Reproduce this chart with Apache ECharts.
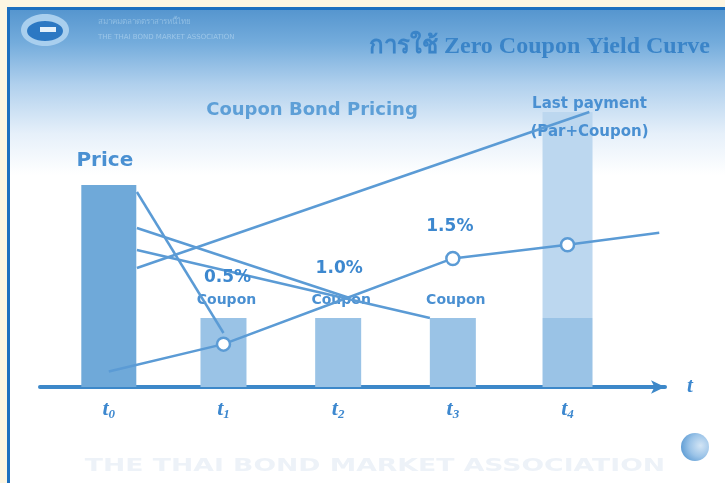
<!DOCTYPE html>
<html>
<head>
<meta charset="utf-8">
<script src="https://cdn.jsdelivr.net/npm/echarts@6/dist/echarts.min.js"></script>
<style>
  html, body { margin: 0; padding: 0; background: #ffffff; }
  #chart { width: 725px; height: 483px; }
</style>
</head>
<body>
<div id="chart"></div>
<script>
// Cash-flow timeline: t0 holds the bond price, t1..t4 the cash flows received.
const tickSubscripts = ['0', '1', '2', '3', '4'];
const cashTimes = [0, 1, 2, 3, 4];
const cashAmounts = [101, 34.5, 34.5, 34.5, 34.5];   // price, then coupons
const parTime = 4;
const parAmount = 103;                               // par repaid with the final coupon
const cashCaptions = ['Price', 'Coupon', 'Coupon', 'Coupon', ''];
const lastCaption = ['Last payment', '(Par+Coupon)'];

// Zero-coupon yield curve (percent) and the rates that are annotated.
const yieldTimes = [0, 1, 2, 3, 4, 4.8];
const yieldRates = [0.18, 0.5, 1.0, 1.5, 1.66, 1.8];
const labelledRates = [1, 2, 3];

// Discounting links from the price bar out to each cash flow.
const linkFrom = [[0.245, 97.5], [0.245, 79.5], [0.245, 68.5], [0.245, 59.5]];
const linkTo = [[1.0, 27], [2.1, 44.5], [2.8, 34.5], [4.19, 137.5]];

const BLUE = '#5b9bd5';
const TEXT_BLUE = '#4a90d2';
const LABEL_BLUE = '#3d88cf';

const barRows = cashTimes.map((t, i) => [t, 0, cashAmounts[i], i]);
barRows.push([parTime, cashAmounts[cashAmounts.length - 1], cashAmounts[cashAmounts.length - 1] + parAmount, 5]);

function renderBar(params, api) {
  const t = api.value(0), lo = api.value(1), hi = api.value(2), kind = api.value(3);
  const top = api.coord([t, hi]);
  const bottom = api.coord([t, lo]);
  const w = kind === 0 ? 55 : (kind >= 4 ? 50 : 46);
  const fill = kind === 0 ? '#6fa9d9' : (kind === 5 ? '#bcd7ef' : '#9ac3e6');
  const children = [{
    type: 'rect',
    shape: { x: top[0] - w / 2, y: top[1], width: w, height: bottom[1] - top[1] },
    style: { fill: fill }
  }];
  const caption = kind <= 4 ? cashCaptions[kind] : '';
  if (caption) {
    children.push({
      type: 'text',
      style: {
        text: caption,
        x: top[0] + (kind === 0 ? -4 : 3),
        y: top[1] - (kind === 0 ? 24 : 18),
        align: 'center', verticalAlign: 'middle',
        font: kind === 0 ? 'bold 20px "DejaVu Sans"' : 'bold 14px "DejaVu Sans"',
        fill: TEXT_BLUE
      },
      z2: 20
    });
  }
  if (kind === 5) {
    lastCaption.forEach((line, j) => {
      children.push({
        type: 'text',
        style: {
          text: line,
          x: top[0] + 22, y: top[1] - 8 + j * 28,
          align: 'center', verticalAlign: 'middle',
          font: 'bold 15px "DejaVu Sans"',
          fill: TEXT_BLUE
        },
        z2: 20
      });
    });
  }
  return { type: 'group', children: children };
}

const linkSeries = linkFrom.map((p, i) => ({
  type: 'line',
  data: [p, linkTo[i]],
  symbol: 'none',
  lineStyle: { color: BLUE, width: 2.5 },
  z: 3,
  silent: true
}));

const yieldData = yieldTimes.map((t, i) => {
  const item = { value: [t, yieldRates[i]] };
  if (i === 0 || i === yieldTimes.length - 1 || i === 2) item.symbolSize = 0;
  if (labelledRates.includes(i)) {
    item.label = {
      show: true,
      position: 'top',
      distance: i === 1 ? 50 : (i === 2 ? 24 : 16),
      offset: [i === 1 ? 4 : (i === 2 ? 1 : -3), 0],
      formatter: p => p.value[1].toFixed(1) + '%',
      fontFamily: 'DejaVu Sans',
      fontWeight: 'bold',
      fontSize: 17,
      color: LABEL_BLUE
    };
  }
  return item;
});

const chart = echarts.init(document.getElementById('chart'), null, { renderer: 'canvas' });

chart.setOption({
  animation: false,
  backgroundColor: '#ffffff',
  grid: { left: 40, right: 60, top: 87, bottom: 96, outerBoundsMode: 'none' },
  xAxis: {
    type: 'value',
    min: -0.6,
    max: 4.85,
    splitLine: { show: false },
    axisTick: { show: false },
    axisLine: {
      show: true,
      symbol: ['none', 'arrow'],
      symbolSize: [10, 14],
      lineStyle: { color: '#3d88c9', width: 4 }
    },
    axisLabel: {
      customValues: cashTimes,
      margin: 11,
      formatter: v => '{t|t}{s|' + tickSubscripts[Math.round(v)] + '}',
      rich: {
        t: { fontFamily: 'Liberation Serif', fontStyle: 'italic', fontWeight: 'bold', fontSize: 22, color: LABEL_BLUE },
        s: { fontFamily: 'Liberation Serif', fontStyle: 'italic', fontWeight: 'bold', fontSize: 13, color: LABEL_BLUE, padding: [10, 0, 0, 0] }
      }
    },
    name: 't',
    nameLocation: 'end',
    nameGap: 22,
    nameTextStyle: { fontFamily: 'Liberation Serif', fontStyle: 'italic', fontWeight: 'bold', fontSize: 21, color: LABEL_BLUE, verticalAlign: 'middle', padding: [0, 0, 6, 0] }
  },
  yAxis: [
    { type: 'value', min: 0, max: 150, show: false },
    { type: 'value', min: 0, max: 3.5, show: false }
  ],
  series: [
    {
      type: 'custom',
      renderItem: renderBar,
      data: barRows,
      encode: { x: 0, y: [1, 2] },
      z: 2,
      silent: true
    },
    ...linkSeries,
    {
      type: 'line',
      yAxisIndex: 1,
      data: yieldData,
      symbol: 'circle',
      symbolSize: 13,
      showAllSymbol: true,
      lineStyle: { color: BLUE, width: 2.5 },
      itemStyle: { color: '#ffffff', borderColor: BLUE, borderWidth: 2.5 },
      z: 4
    }
  ],
  graphic: [
    // header band
    {
      type: 'rect', z: -5, silent: true,
      shape: { x: 10, y: 10, width: 715, height: 165 },
      style: {
        fill: new echarts.graphic.LinearGradient(0, 0, 0, 1, [
          { offset: 0, color: '#5696cf' },
          { offset: 0.2, color: '#74acdc' },
          { offset: 0.45, color: '#b0d0ed' },
          { offset: 0.75, color: '#e6f0fa' },
          { offset: 1, color: '#ffffff' }
        ])
      }
    },
    // outer frame
    { type: 'rect', z: -4, silent: true, shape: { x: 0, y: 0, width: 725, height: 7 }, style: { fill: '#fdf6e2' } },
    { type: 'rect', z: -4, silent: true, shape: { x: 0, y: 0, width: 7, height: 483 }, style: { fill: '#fdf6e2' } },
    { type: 'rect', z: -3, silent: true, shape: { x: 7, y: 7, width: 718, height: 3 }, style: { fill: '#1d70bf' } },
    { type: 'rect', z: -3, silent: true, shape: { x: 7, y: 7, width: 3, height: 476 }, style: { fill: '#1d70bf' } },
    // association emblem
    { type: 'ellipse', z: -2, silent: true, shape: { cx: 45, cy: 30, rx: 24, ry: 16 }, style: { fill: '#a9cfee' } },
    { type: 'ellipse', z: -2, silent: true, shape: { cx: 45, cy: 31, rx: 18, ry: 10 }, style: { fill: '#2c78c3' } },
    { type: 'rect', z: -2, silent: true, shape: { x: 40, y: 27, width: 16, height: 5 }, style: { fill: '#e4f0fa' } },
    { type: 'text', z: -2, silent: true, style: { text: 'สมาคมตลาดตราสารหนี้ไทย', x: 98, y: 22, font: '8px "Noto Sans"', fill: '#8fbde3', verticalAlign: 'middle' } },
    { type: 'text', z: -2, silent: true, style: { text: 'THE THAI BOND MARKET ASSOCIATION', x: 98, y: 37, font: '7px "DejaVu Sans"', fill: '#9cc6e8', verticalAlign: 'middle' } },
    // headings
    {
      type: 'text', z: 10, silent: true,
      style: { text: 'การใช้ Zero Coupon Yield Curve', x: 710, y: 47, align: 'right', verticalAlign: 'middle', font: 'bold 24px "Liberation Serif"', fill: '#3a84c8' }
    },
    {
      type: 'text', z: 10, silent: true,
      style: { text: 'Coupon Bond Pricing', x: 312, y: 110, align: 'center', verticalAlign: 'middle', font: 'bold 18px "DejaVu Sans"', fill: '#5d9fd7' }
    },
    // footer
    {
      type: 'text', z: 1, silent: true,
      x: 375, y: 466, scaleX: 1.48,
      style: { text: 'THE THAI BOND MARKET ASSOCIATION', x: 0, y: 0, align: 'center', verticalAlign: 'middle', font: 'bold 18px "DejaVu Sans"', fill: '#edf2f8' }
    },
    {
      type: 'circle', z: 1, silent: true,
      shape: { cx: 695, cy: 447, r: 14 },
      style: {
        fill: new echarts.graphic.RadialGradient(0.7, 0.45, 0.8, [
          { offset: 0, color: '#d3e5f5' },
          { offset: 0.5, color: '#9cc4e8' },
          { offset: 1, color: '#4f93d0' }
        ])
      }
    }
  ]
});
</script>
</body>
</html>
